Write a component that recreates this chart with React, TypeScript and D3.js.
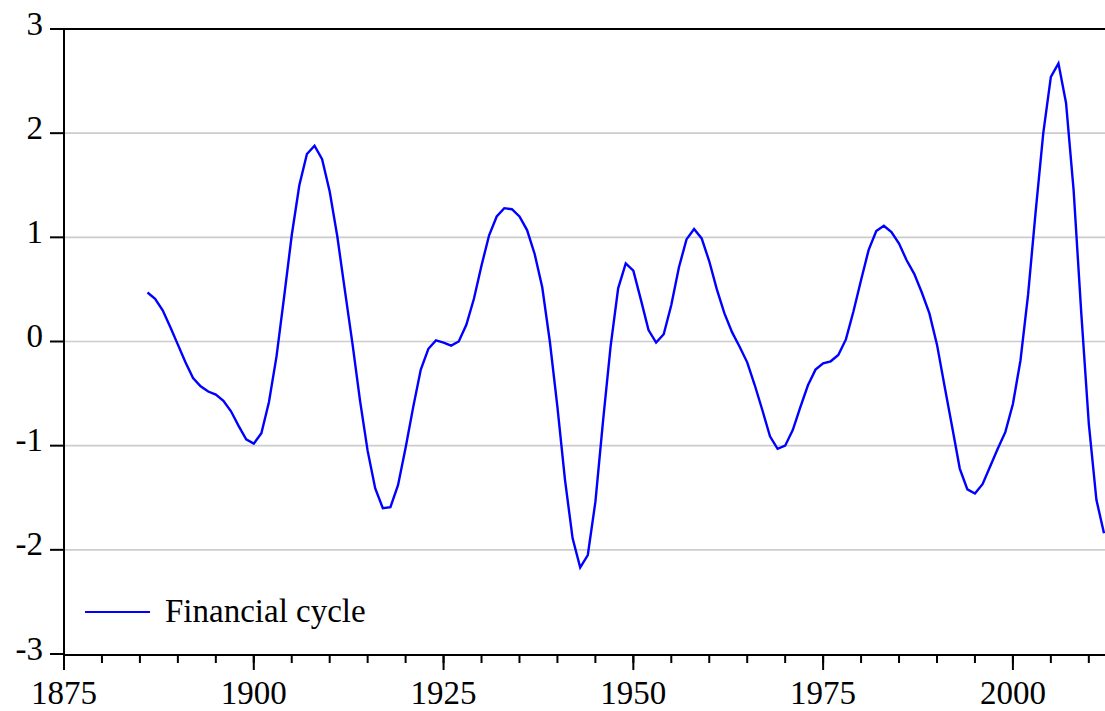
import * as d3 from 'd3';
import React from 'react';

// annual values
const years = d3.range(1886, 2013);
const financialCycle = [
	0.47, 0.41, 0.30, 0.14, -0.03, -0.20, -0.35, -0.43, -0.48, -0.51,
	-0.57, -0.67, -0.81, -0.94, -0.98, -0.88, -0.58, -0.14, 0.43, 1.02,
	1.50, 1.80, 1.88, 1.75, 1.44, 1.01, 0.49, -0.02, -0.57, -1.05,
	-1.41, -1.60, -1.59, -1.38, -1.02, -0.63, -0.27, -0.07, 0.01, -0.01,
	-0.04, 0.00, 0.16, 0.41, 0.73, 1.02, 1.20, 1.28, 1.27, 1.20,
	1.07, 0.84, 0.52, 0.00, -0.63, -1.33, -1.89, -2.17, -2.05, -1.54,
	-0.77, -0.05, 0.51, 0.75, 0.68, 0.40, 0.11, -0.01, 0.07, 0.35,
	0.71, 0.98, 1.08, 0.99, 0.77, 0.50, 0.27, 0.09, -0.05, -0.20,
	-0.42, -0.66, -0.91, -1.03, -1.00, -0.85, -0.63, -0.42, -0.27, -0.21,
	-0.19, -0.13, 0.02, 0.29, 0.59, 0.88, 1.06, 1.11, 1.05, 0.94,
	0.78, 0.65, 0.47, 0.27, -0.03, -0.43, -0.82, -1.22, -1.42, -1.46,
	-1.37, -1.20, -1.03, -0.87, -0.60, -0.18, 0.45, 1.25, 2.00, 2.54,
	2.67, 2.29, 1.45, 0.28, -0.79, -1.52, -1.84
];
const yTicks = [-3, -2, -1, 0, 1, 2, 3];
const gridTicks = [-2, -1, 0, 1, 2];
const xMajorTicks = [1875, 1900, 1925, 1950, 1975, 2000];
const xMinorTicks = d3.range(1875, 2013, 5);
const seriesName = 'Financial cycle';

const W = 1105;
const H = 711;
const left = 64;
const right = 1104;
const top = 29;
const bottom = 654;
const font = '"Liberation Serif", "Times New Roman", serif';

export default function App() {
	const x = d3.scaleLinear().domain([1875, 2012]).range([left, right]);
	const y = d3.scaleLinear().domain([-3, 3]).range([bottom, top]);

	const line = d3.line<number>()
		.x((d, i) => x(years[i]))
		.y(d => y(d));

	return (
		<svg width={W} height={H} style={{ position: 'absolute', left: 0, top: 0, background: '#fff' }}>
			{gridTicks.map(t => (
				<line key={'g' + t} x1={left} x2={W} y1={y(t)} y2={y(t)} stroke="#cccccc" strokeWidth={1.6} />
			))}

			<path d={line(financialCycle) || ''} fill="none" stroke="#0000ff" strokeWidth={2.4} strokeLinejoin="miter" />

			{/* frame */}
			<line x1={left} x2={W} y1={top} y2={top} stroke="#000" strokeWidth={2} />
			<line x1={left} x2={left} y1={top - 1} y2={bottom + 1} stroke="#000" strokeWidth={2} />
			<line x1={left - 1} x2={W} y1={bottom + 1} y2={bottom + 1} stroke="#000" strokeWidth={2} />

			{yTicks.map(t => (
				<g key={'y' + t}>
					<line x1={left - 14} x2={left} y1={y(t)} y2={y(t)} stroke="#000" strokeWidth={2} />
					<text x={43} y={y(t) + 5.5} textAnchor="end" fontFamily={font} fontSize={33} fill="#000">{t}</text>
				</g>
			))}

			{xMinorTicks.map(t => (
				<line key={'m' + t} x1={x(t)} x2={x(t)} y1={bottom + 1} y2={bottom + 9} stroke="#000" strokeWidth={2} />
			))}
			{xMajorTicks.map(t => (
				<g key={'x' + t}>
					<line x1={x(t)} x2={x(t)} y1={bottom + 1} y2={bottom + 16} stroke="#000" strokeWidth={2} />
					<text x={x(t)} y={704} textAnchor="middle" fontFamily={font} fontSize={33} fill="#000">{t}</text>
				</g>
			))}

			{/* legend */}
			<line x1={85} x2={150} y1={612} y2={612} stroke="#0000ff" strokeWidth={2} />
			<text x={165} y={622} fontFamily={font} fontSize={33} fill="#000">{seriesName}</text>
		</svg>
	);
}
